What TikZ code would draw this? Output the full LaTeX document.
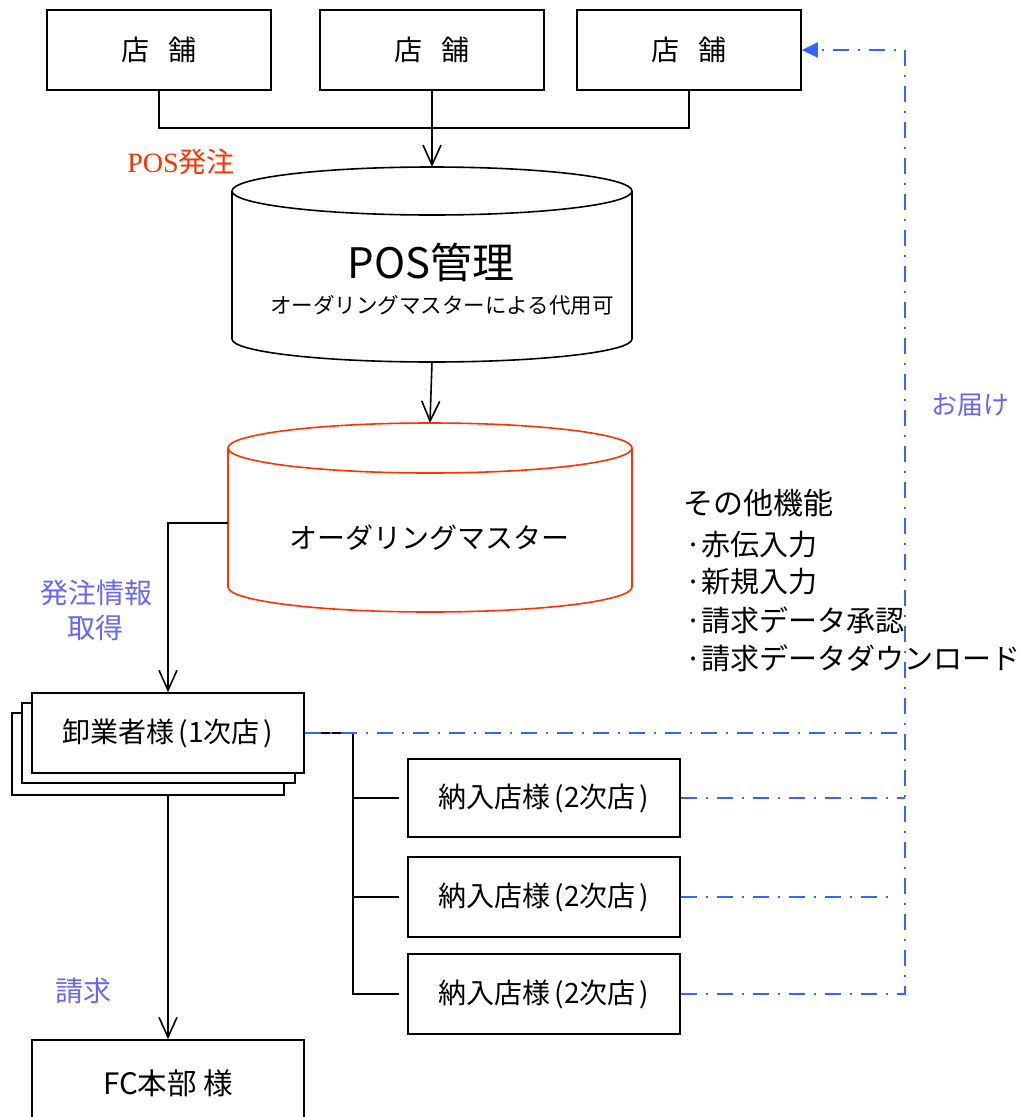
\documentclass[tikz,border=0pt]{standalone}
\usepackage{fontspec}
\setmainfont{Noto Sans CJK JP}
\newfontfamily\serifx{Liberation Serif}
\usetikzlibrary{arrows.meta}
\definecolor{redx}{RGB}{255,51,0}
\definecolor{bluel}{RGB}{51,102,255}
\definecolor{bluet}{RGB}{102,102,255}
\tikzset{
  ln/.style={line width=1.6pt, draw=black},
  arr/.style={ln, -{Straight Barb[length=20pt,width=18pt,line width=1.6pt]}},
  bl/.style={line width=2pt, draw=bluel, dash pattern=on 16pt off 9pt on 2pt off 9pt},
  bx/.style={draw, line width=1.6pt, fill=white, inner sep=0pt},
  fs/.style={font=\fontsize{#1}{#1}\selectfont},
  cyl/.style={line width=1.6pt, fill=white},
}
\newcommand{\pl}{\hspace{4pt}(}
\newcommand{\pr}{\hspace{4pt})}
\begin{document}
\begin{tikzpicture}[x=1pt,y=-1pt]
\clip (0,0) rectangle (1021,1117);
\fill[white] (0,0) rectangle (1021,1117);

% stores
\node[bx, fs=28, minimum width=224pt, minimum height=80pt] (s1) at (159,50) {\raisebox{-3pt}{店\hspace{20pt}舗}};
\node[bx, fs=28, minimum width=224pt, minimum height=80pt] (s2) at (432,50) {\raisebox{-3pt}{店\hspace{20pt}舗}};
\node[bx, fs=28, minimum width=224pt, minimum height=80pt] (s3) at (689,50) {\raisebox{-3pt}{店\hspace{20pt}舗}};

\coordinate (jn) at (432,128);
\coordinate (posTop) at (432,167);
\coordinate (posBot) at (432,362);
\coordinate (omTop) at (430,423);
\coordinate (omLeft) at (228,523);

\draw[ln] (s1.south) |- (jn) -| (s3.south);
\draw[arr] (s2.south) -- (posTop);

\node[text=redx, fs=28] (posorder) at (181,162) {{\serifx POS}発注};

% POS cylinder
\draw[cyl] (232,191) -- (232,339) arc[start angle=180,end angle=360,x radius=200pt,y radius=23pt] -- (632,191);
\draw[cyl] (432,191) ellipse[x radius=200pt,y radius=24pt];
\node[fs=42] (posT) at (431,262) {POS管理};
\node[fs=21.5] (posS) at (442,305) {オーダリングマスターによる代用可};

\draw[arr] (posBot) -- (omTop);

% ordering master cylinder
\draw[cyl, draw=redx] (228,448) -- (228,587) arc[start angle=180,end angle=360,x radius=202pt,y radius=25pt] -- (632,448);
\draw[cyl, draw=redx] (430,448) ellipse[x radius=202pt,y radius=25pt];
\node[fs=28] (omT) at (429,538) {オーダリングマスター};

% other functions
\node[fs=30, anchor=west, inner sep=0pt] (o1) at (683,503) {その他機能};
\node[fs=29, anchor=west, inner sep=0pt] (o2) at (685,545) {·赤伝入力};
\node[fs=29, anchor=west, inner sep=0pt] (o3) at (685,582) {·新規入力};
\node[fs=29, anchor=west, inner sep=0pt] (o4) at (685,620) {·請求データ承認};
\node[fs=29, anchor=west, inner sep=0pt] (o5) at (685,658) {·請求データダウンロード};

\node[text=bluet, fs=26] (deliv) at (970,405) {お届け};

% wholesaler stack
\node[bx, minimum width=272pt, minimum height=82pt] (w3) at (148,754) {};
\node[bx, minimum width=273pt, minimum height=80pt] (w2) at (158.5,743) {};
\node[bx, fs=28, minimum width=272pt, minimum height=80pt] (w1) at (168,733) {卸業者様\pl 1次店\pr};

\draw[arr] (omLeft) -| (w1.north);
\node[text=bluet, align=center, font=\fontsize{28}{35}\selectfont] (get) at (96,610) {発注情報\\取得};

% secondary stores
\node[bx, fs=28, minimum width=272pt, minimum height=78pt] (n1) at (544,798) {納入店様\pl 2次店\pr};
\node[bx, fs=28, minimum width=272pt, minimum height=80pt] (n2) at (544,897) {納入店様\pl 2次店\pr};
\node[bx, fs=28, minimum width=272pt, minimum height=80pt] (n3) at (544,994) {納入店様\pl 2次店\pr};

\coordinate (lad) at (353,733);
\coordinate (rv) at (905,733);
\draw[ln] (w1.east) -- (lad) |- ([xshift=-8pt]n3.west);
\draw[ln] (lad |- n1.west) -- ([xshift=-8pt]n1.west);
\draw[ln] (lad |- n2.west) -- ([xshift=-8pt]n2.west);

% delivery lines
\draw[bl] (w1.east) -- (rv);
\draw[bl] (n1.east) -- (n1.east -| rv);
\draw[bl] (n2.east) -- ([xshift=-10pt]n2.east -| rv);
\draw[bl, -{Triangle[length=16pt,width=15pt]}] (n3.east) -| (s3.east -| rv) -- (s3.east);

% FC
\node[bx, fs=29.5, minimum width=272pt, minimum height=86pt] (fc) at (168,1083) {FC本部 様};
\draw[arr] (w3.south -| fc.north) -- (fc.north);
\node[text=bluet, fs=28] (bill) at (83,991) {請求};
\end{tikzpicture}
\end{document}
